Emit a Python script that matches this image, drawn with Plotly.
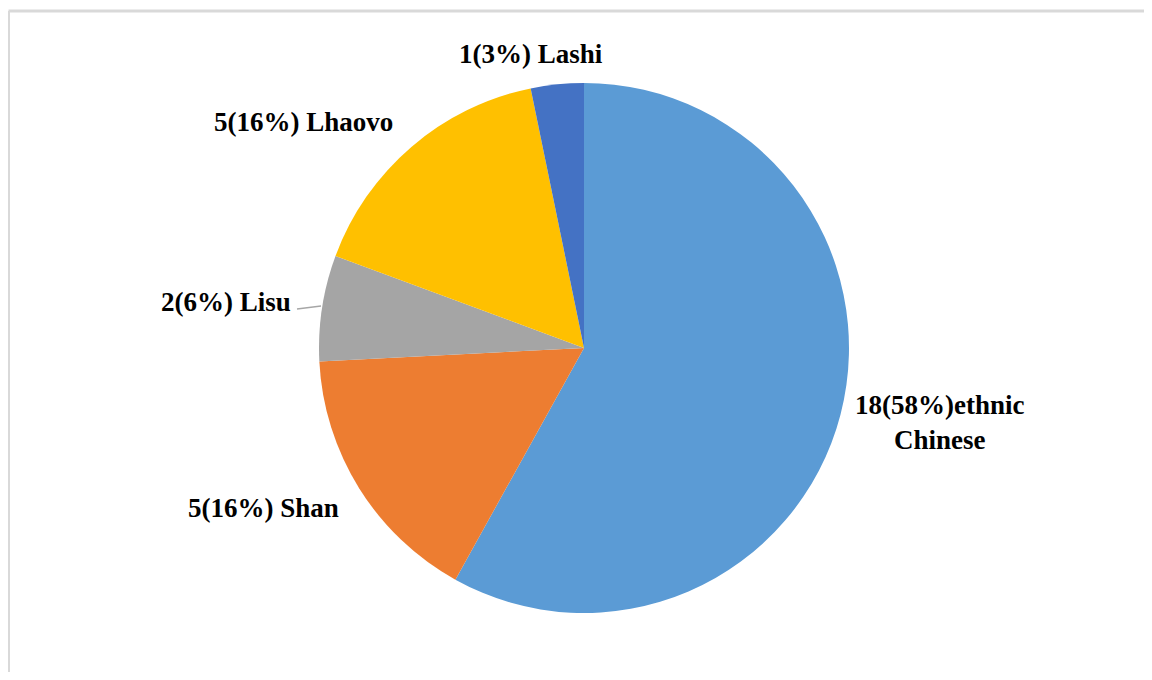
import plotly.graph_objects as go

labels = ["ethnic Chinese", "Shan", "Lisu", "Lhaovo", "Lashi"]
counts = [18, 5, 2, 5, 1]
colors = ["#5B9BD5", "#ED7D31", "#A5A5A5", "#FFC000", "#4472C4"]

# figure sized to fit inside the page's default 8px body margin
W, H = 1136, 664
OFF = 8  # page offset of the figure

total = sum(counts)
pcts = [round(c / total * 100) for c in counts]

# label display texts (built from data)
seps = ["", " ", " ", " ", " "]
names_disp = ["ethnic<br>Chinese", "Shan", "Lisu", "Lhaovo", "Lashi"]
texts = [f"{c}({p}%){s}{n}" for c, p, s, n in zip(counts, pcts, seps, names_disp)]

# label positions in page pixels (layout styling)
lab_pos = [(939, 422, "center"), (263, 508, "center"), (293, 302, "right"),
           (303, 122, "center"), (531, 54, "center")]


def px(x):
    return (x - OFF) / W


def py(y):
    return 1 - (y - OFF) / H


fig = go.Figure()
fig.add_trace(go.Pie(
    labels=labels, values=counts, sort=False, direction="clockwise", rotation=0,
    marker=dict(colors=colors, line=dict(width=0)),
    textinfo="none", hoverinfo="label+value+percent", showlegend=False,
    domain=dict(x=[px(319), px(849)], y=[py(613), py(83)]),
))

for t, (lx, ly, anc) in zip(texts, lab_pos):
    fig.add_annotation(
        x=px(lx), y=py(ly), xref="paper", yref="paper",
        text=f"<b>{t}</b>", showarrow=False, xanchor=anc, yanchor="middle",
        font=dict(family="Liberation Serif", size=27, color="#000000"),
        align="center",
    )

# leader line for Lisu
fig.add_shape(type="line", xref="paper", yref="paper",
              x0=px(297), y0=py(309), x1=px(321), y1=py(306),
              line=dict(color="#A6A6A6", width=1.5))

# chart area border (left and top edges visible only)
border = dict(color="#D9D9D9", width=3)
fig.add_shape(type="line", xref="paper", yref="paper",
              x0=0.5 / W, x1=0.5 / W, y0=0, y1=py(11), line=border)
fig.add_shape(type="line", xref="paper", yref="paper",
              x0=0.5 / W, x1=1, y0=py(11), y1=py(11), line=border)

fig.update_layout(
    width=W, height=H, margin=dict(l=0, r=0, t=0, b=0),
    paper_bgcolor="white", plot_bgcolor="white",
)

fig.write_html("out.html")
